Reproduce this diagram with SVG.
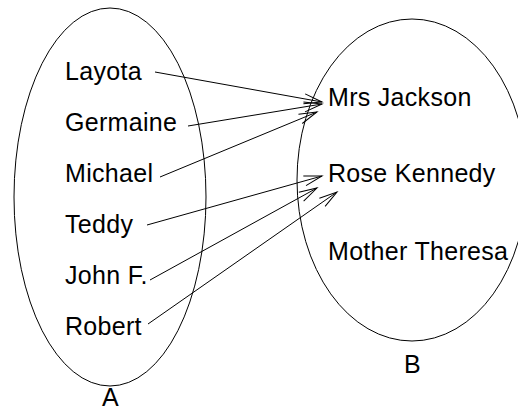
<svg xmlns="http://www.w3.org/2000/svg" width="518" height="411" viewBox="0 0 518 411">
<defs>
<marker id="arr" markerUnits="userSpaceOnUse" markerWidth="20" markerHeight="12" refX="0" refY="0" viewBox="-18 -6 20 12" orient="auto" overflow="visible">
<path d="M-18,-5 L0,0 L-18,5" fill="none" stroke="#000" stroke-width="1"/>
</marker>
<style>
.t{font-family:"Liberation Sans",Arial,sans-serif;font-size:25px;letter-spacing:0.3px;fill:#000}
.e{fill:none;stroke:#000;stroke-width:1}
.c{fill:none;stroke:#000;stroke-width:1;marker-end:url(#arr)}
</style>
</defs>
<rect width="518" height="411" fill="#fff"/>
<g id="setA">
<ellipse class="e" cx="110" cy="197" rx="96" ry="189"/>
<text class="t" x="102" y="406">A</text>
</g>
<g id="setB">
<ellipse class="e" cx="412" cy="180" rx="115" ry="161"/>
<text class="t" x="404" y="373">B</text>
</g>
<g id="layota"><text class="t" x="65" y="80">Layota</text></g>
<g id="germaine"><text class="t" x="65" y="131">Germaine</text></g>
<g id="michael"><text class="t" x="65" y="182">Michael</text></g>
<g id="teddy"><text class="t" x="65" y="233">Teddy</text></g>
<g id="johnf"><text class="t" x="65" y="284">John F.</text></g>
<g id="robert"><text class="t" x="65" y="335">Robert</text></g>
<g id="mrsjackson"><text class="t" x="328" y="106">Mrs Jackson</text></g>
<g id="rosekennedy"><text class="t" x="328" y="182">Rose Kennedy</text></g>
<g id="mothertheresa"><text class="t" x="328" y="260">Mother Theresa</text></g>
<g id="connectors">
<line class="c" x1="155" y1="72" x2="322" y2="102"/>
<line class="c" x1="188" y1="126" x2="322" y2="104"/>
<line class="c" x1="160" y1="177" x2="317" y2="112"/>
<line class="c" x1="147" y1="225" x2="322" y2="176"/>
<line class="c" x1="150" y1="280" x2="317" y2="188"/>
<line class="c" x1="148" y1="324" x2="337" y2="192"/>
</g>
</svg>
